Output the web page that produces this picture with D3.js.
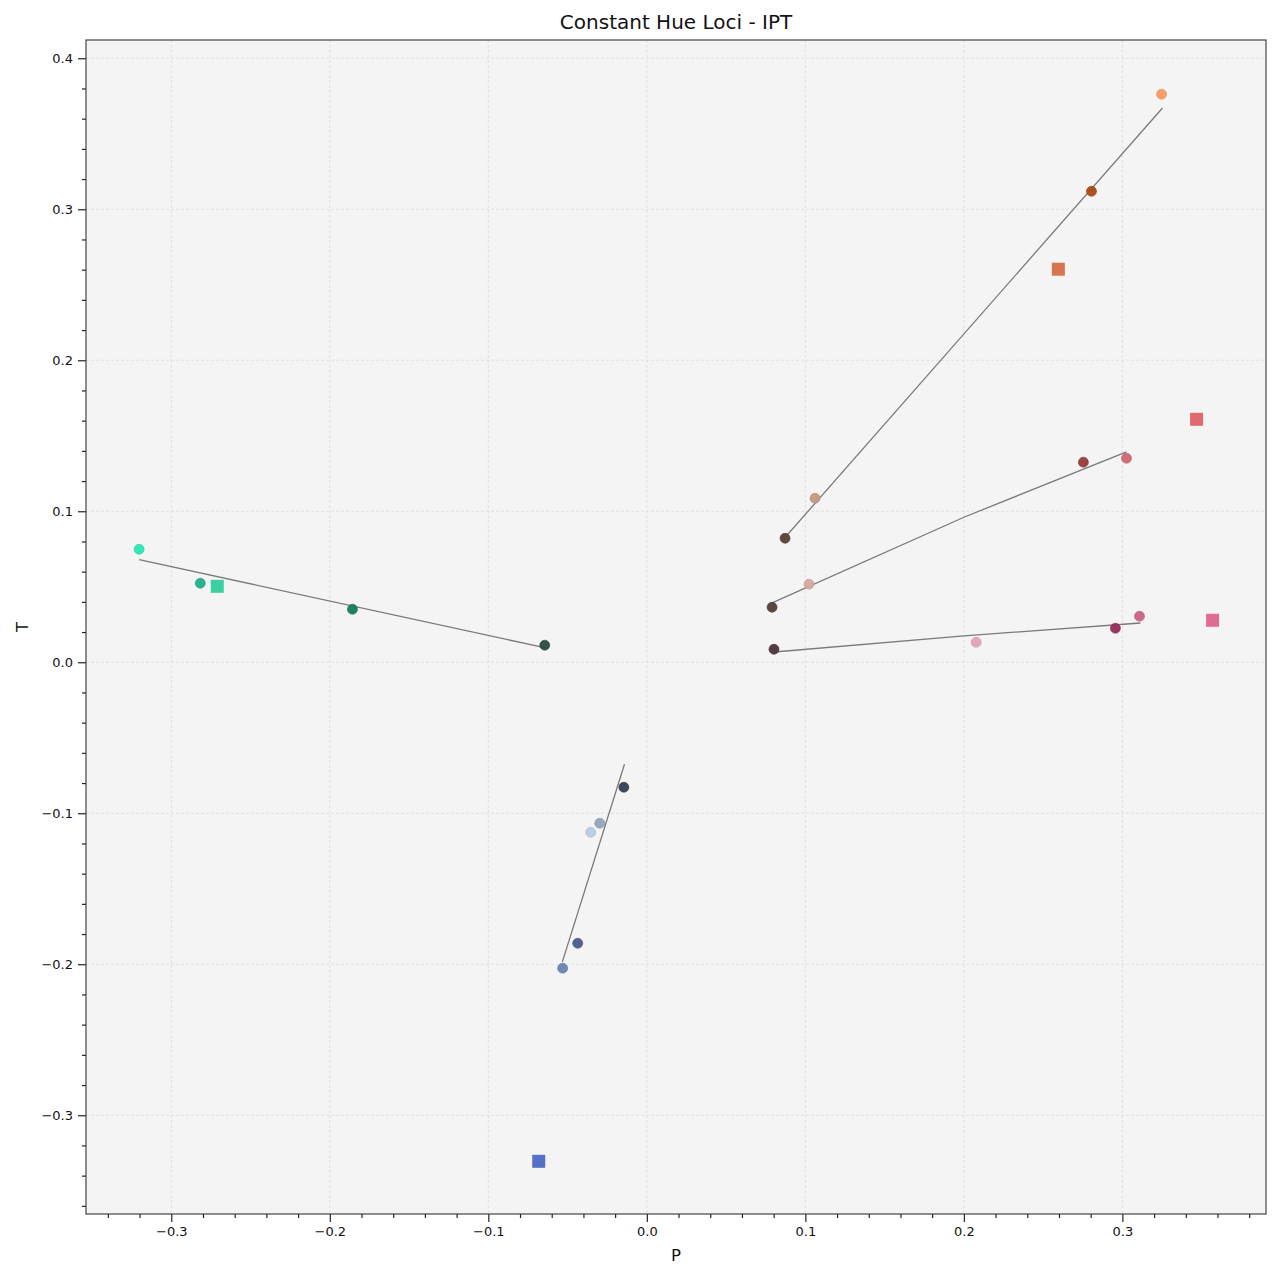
<!DOCTYPE html>
<html>
<head>
<meta charset="utf-8">
<script src="https://cdn.jsdelivr.net/npm/d3@7"></script>
<style>
  body { margin: 0; background: #fff; }
  text { font-family: "DejaVu Sans", sans-serif; }
</style>
</head>
<body>
<div id="chart"></div>
<script>
// sample points (P, T, colour)
const pointP = [0.3247, 0.2805, 0.1061, 0.0872,
                0.0790, 0.1023, 0.2754, 0.3026,
                0.0802, 0.2078, 0.2956, 0.3108,
                -0.3203, -0.2817, -0.1857, -0.0644,
                -0.0145, -0.0297, -0.0354, -0.0436, -0.0531];
const pointT = [0.3762, 0.3119, 0.1086, 0.0821,
                0.0364, 0.0517, 0.1325, 0.1351,
                0.0086, 0.0132, 0.0225, 0.0305,
                0.0748, 0.0523, 0.0351, 0.0113,
                -0.0828, -0.1066, -0.1126, -0.1861, -0.2026];
const pointColor = ['#fd9a5e', '#a94a14', '#c49584', '#5a3d34',
                    '#523a3a', '#d5aaa2', '#953a3c', '#cc6670',
                    '#4c3039', '#e2a3b4', '#932c57', '#c96184',
                    '#2ae6b2', '#1fb088', '#157a5c', '#2a4a42',
                    '#333d52', '#93a2ba', '#b9cae3', '#4a5b89', '#6c82b3'];

// reference colours (squares)
const refP = [0.2596, 0.3468, 0.3569, -0.2710, -0.0682];
const refT = [0.2603, 0.1609, 0.0278, 0.0503, -0.3305];
const refColor = ['#d67550', '#e06a6f', '#e06b93', '#3ccfa2', '#5570c8'];

// constant hue loci (polylines)
const lociP = [
  [0.0884, 0.3253],
  [0.0790, 0.2004, 0.3026],
  [0.0804, 0.2000, 0.3114],
  [-0.3203, -0.0638],
  [-0.0141, -0.0533]
];
const lociT = [
  [0.0841, 0.3671],
  [0.0393, 0.0962, 0.1393],
  [0.0068, 0.0175, 0.0260],
  [0.0680, 0.0095],
  [-0.0675, -0.1984]
];

const xMajor = [-0.3, -0.2, -0.1, 0.0, 0.1, 0.2, 0.3];
const yMajor = [-0.3, -0.2, -0.1, 0.0, 0.1, 0.2, 0.3, 0.4];
const xMinor = d3.range(-34, 40, 2).map(v => v / 100);
const yMinor = d3.range(-36, 42, 2).map(v => v / 100);

const W = 1280, H = 1280;
const margin = { top: 40, right: 14, bottom: 66, left: 86 };
const width = W - margin.left - margin.right;
const height = H - margin.top - margin.bottom;

const svg = d3.select('#chart').append('svg')
    .attr('width', W)
    .attr('height', H);

const g = svg.append('g')
    .attr('transform', `translate(${margin.left},${margin.top})`);

const x = d3.scaleLinear().domain([-0.3538, 0.3906]).range([0, width]);
const y = d3.scaleLinear().domain([-0.3654, 0.4121]).range([height, 0]);

g.append('rect')
    .attr('width', width)
    .attr('height', height)
    .attr('fill', '#f4f4f4');

// grid
g.append('g').selectAll('line')
    .data(xMajor)
    .join('line')
    .attr('x1', d => x(d)).attr('x2', d => x(d))
    .attr('y1', 0).attr('y2', height)
    .attr('stroke', '#d8d8d8')
    .attr('stroke-width', 0.7)
    .attr('stroke-dasharray', '3,2');

g.append('g').selectAll('line')
    .data(yMajor)
    .join('line')
    .attr('y1', d => y(d)).attr('y2', d => y(d))
    .attr('x1', 0).attr('x2', width)
    .attr('stroke', '#d8d8d8')
    .attr('stroke-width', 0.7)
    .attr('stroke-dasharray', '3,2');

// loci lines
const line = d3.line().x(d => x(d[0])).y(d => y(d[1]));
g.append('g').selectAll('path')
    .data(lociP.map((ps, i) => ps.map((p, j) => [p, lociT[i][j]])))
    .join('path')
    .attr('d', line)
    .attr('fill', 'none')
    .attr('stroke', '#7a7a7a')
    .attr('stroke-width', 1.3);

// sample points
g.append('g').selectAll('circle')
    .data(pointP.map((p, i) => ({ p, t: pointT[i], c: pointColor[i] })))
    .join('circle')
    .attr('cx', d => x(d.p))
    .attr('cy', d => y(d.t))
    .attr('r', 5)
    .attr('fill', d => d.c)
    .attr('fill-opacity', 0.95)
    .attr('stroke', d => d3.color(d.c).darker(0.3))
    .attr('stroke-width', 0.6);

// reference squares
const sq = 13;
g.append('g').selectAll('rect')
    .data(refP.map((p, i) => ({ p, t: refT[i], c: refColor[i] })))
    .join('rect')
    .attr('x', d => x(d.p) - sq / 2)
    .attr('y', d => y(d.t) - sq / 2)
    .attr('width', sq)
    .attr('height', sq)
    .attr('fill', d => d.c);

// axes
const xAxis = g.append('g')
    .attr('transform', `translate(0,${height})`)
    .call(d3.axisBottom(x).tickValues(xMajor).tickSize(8).tickPadding(5)
        .tickFormat(d => d3.format('.1f')(d).replace('-', '\u2212')));
const xMin = g.append('g')
    .attr('transform', `translate(0,${height})`)
    .call(d3.axisBottom(x).tickValues(xMinor.filter(v => !xMajor.some(m => Math.abs(m - v) < 1e-9)))
        .tickSize(4).tickFormat(''));

const yAxis = g.append('g')
    .call(d3.axisLeft(y).tickValues(yMajor).tickSize(8).tickPadding(5)
        .tickFormat(d => d3.format('.1f')(d).replace('-', '\u2212')));
const yMin = g.append('g')
    .call(d3.axisLeft(y).tickValues(yMinor.filter(v => !yMajor.some(m => Math.abs(m - v) < 1e-9)))
        .tickSize(4).tickFormat(''));

[xAxis, xMin, yAxis, yMin].forEach(a => {
    a.select('.domain').remove();
    a.selectAll('line').attr('stroke', '#222').attr('stroke-width', 1.2);
    a.selectAll('text')
        .attr('fill', '#111')
        .style('font-size', '13px')
        .style('font-family', '"DejaVu Sans", sans-serif');
});

// frame
g.append('rect')
    .attr('width', width)
    .attr('height', height)
    .attr('fill', 'none')
    .attr('stroke', '#333')
    .attr('stroke-width', 1.1);

// labels
svg.append('text')
    .attr('x', margin.left + width / 2)
    .attr('y', 29)
    .attr('text-anchor', 'middle')
    .style('font-size', '20px')
    .attr('fill', '#111')
    .text('Constant Hue Loci - IPT');

svg.append('text')
    .attr('x', margin.left + width / 2)
    .attr('y', 1261)
    .attr('text-anchor', 'middle')
    .style('font-size', '16.5px')
    .attr('fill', '#111')
    .text('P');

svg.append('text')
    .attr('transform', `translate(28,${margin.top + height / 2}) rotate(-90)`)
    .attr('text-anchor', 'middle')
    .style('font-size', '16.5px')
    .attr('fill', '#111')
    .text('T');
</script>
</body>
</html>
